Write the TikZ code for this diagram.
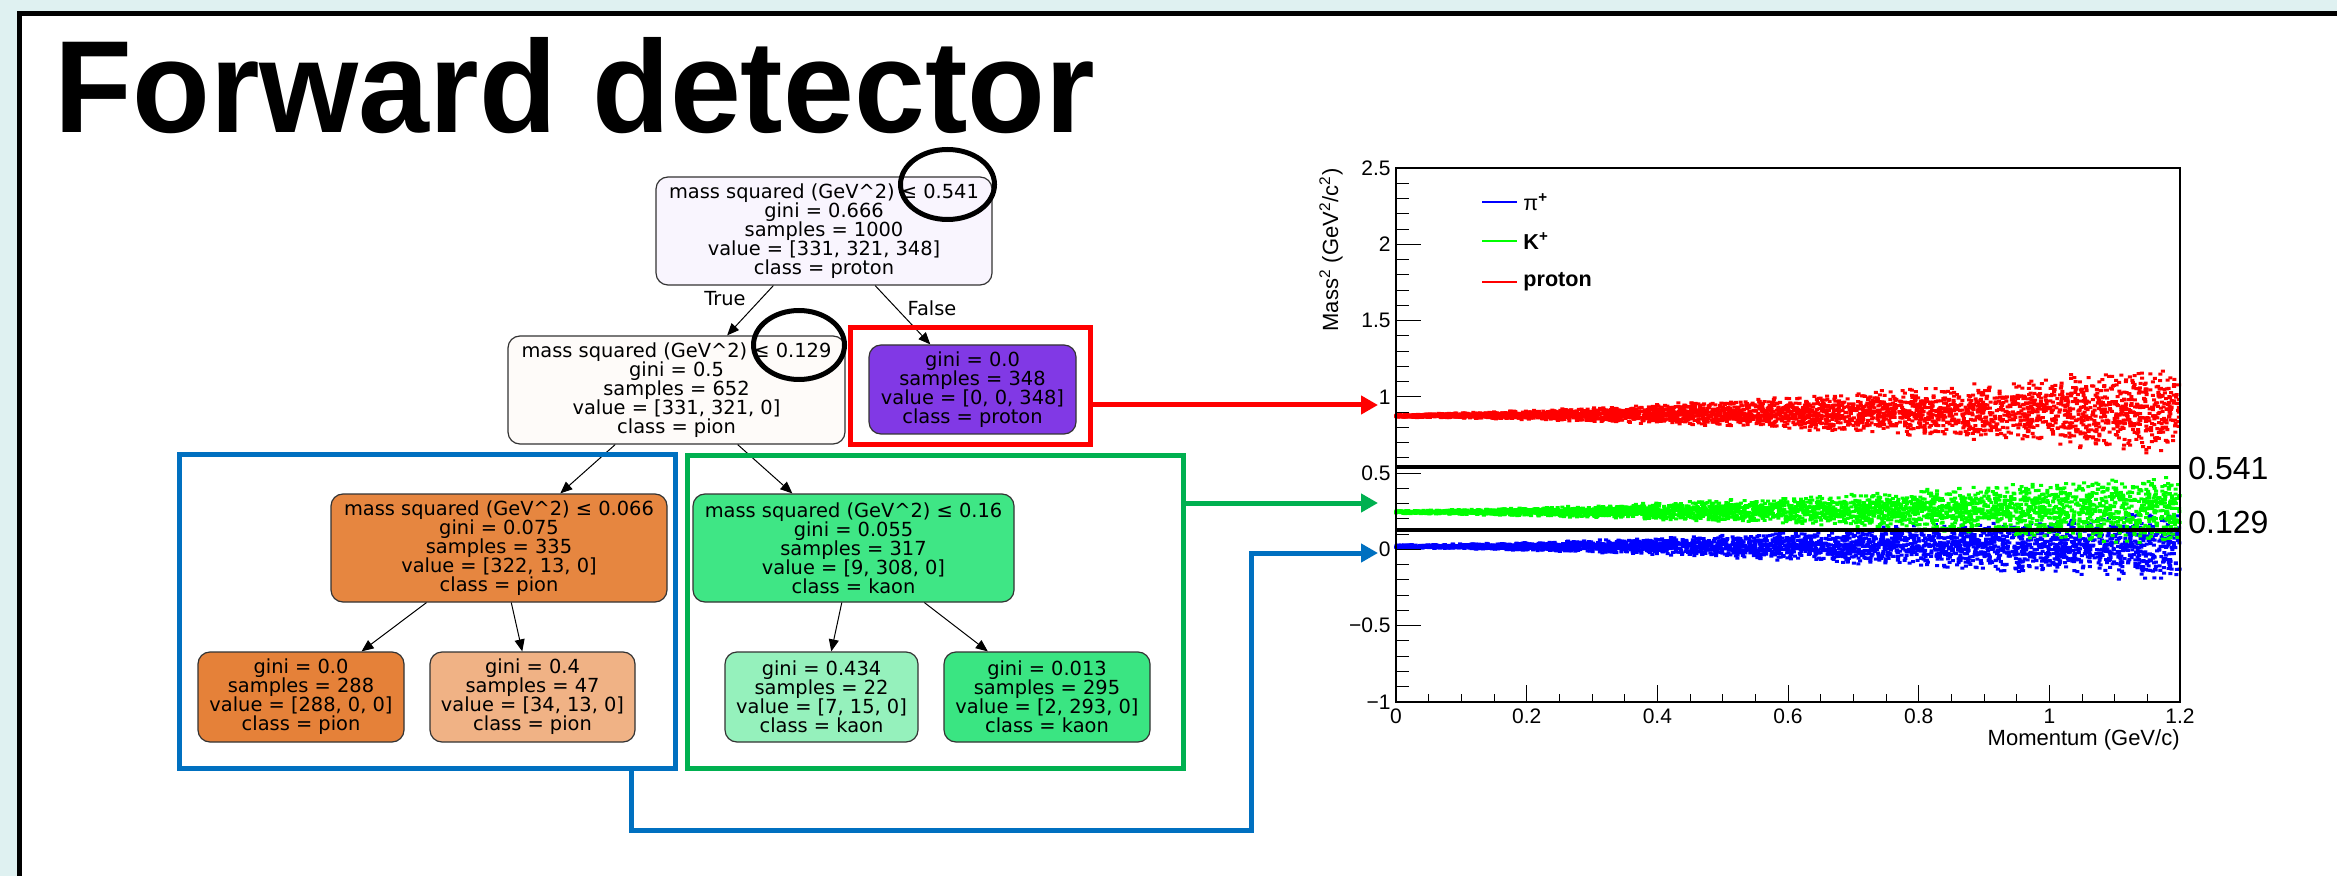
\documentclass[tikz,border=0pt]{standalone}
\usepackage{fontspec}
\setmainfont{Liberation Sans}
\newfontfamily\dejavu{DejaVu Sans}
\usetikzlibrary{arrows.meta,shapes.geometric}
\definecolor{bgc}{RGB}{223,241,241}
\definecolor{rootc}{RGB}{249,245,254}
\definecolor{ntwoc}{RGB}{254,251,249}
\definecolor{purp}{RGB}{129,57,229}
\definecolor{orA}{RGB}{230,134,64}
\definecolor{orB}{RGB}{229,129,57}
\definecolor{orC}{RGB}{240,178,133}
\definecolor{grA}{RGB}{63,230,133}
\definecolor{grB}{RGB}{149,241,188}
\definecolor{grC}{RGB}{58,229,130}
\definecolor{boxblue}{RGB}{0,112,192}
\definecolor{boxgreen}{RGB}{0,176,80}
\definecolor{boxred}{RGB}{255,0,0}
\definecolor{pionc}{RGB}{0,0,255}
\definecolor{kaonc}{RGB}{0,255,0}
\definecolor{protc}{RGB}{255,0,0}
\tikzset{
  tn/.style={draw=black!80, line width=0.6pt, rounded corners=6pt, inner sep=0pt,
    align=center, font=\dejavu\fontsize{9.7}{9.5}\selectfont},
  te/.style={draw=black, line width=0.5pt, -{Triangle[length=6pt,width=5pt]}},
  tlab/.style={font=\dejavu\fontsize{9.7}{9.5}\selectfont, inner sep=0pt},
  hibox/.style={draw, line width=2.5pt, inner sep=0pt},
  hiarrow/.style={line width=2.5pt, -{Triangle[length=8.5pt,width=9pt]}},
  ring/.style={ellipse, draw=black, line width=2.5pt, inner sep=0pt},
  ticklab/.style={inner sep=0pt, font=\fontsize{10.5}{12}\selectfont},
  axtitle/.style={inner sep=0pt, font=\fontsize{11}{13}\selectfont},
  legtext/.style={inner sep=0pt, anchor=west, font=\fontsize{10.8}{13}\selectfont},
  thr/.style={inner sep=0pt, anchor=west, font=\fontsize{16}{18}\selectfont}
}
\begin{document}
\begin{tikzpicture}[x=0.5pt,y=-0.5pt]
\useasboundingbox (0,0) rectangle (2337,876);
\fill[bgc] (0,0) rectangle (2337,876);
\filldraw[fill=white, draw=black, line width=2.5pt] (19,13.5) rectangle (2420,960);

% title
\node[anchor=base west, inner sep=0pt, yscale=1.03, font=\bfseries\fontsize{63.7}{70}\selectfont] (title) at (54,133) {Forward detector};

% tree nodes
\node[tn, fill=rootc, minimum width=168pt, minimum height=54pt] (root) at (824,231)
  {mass squared (GeV\^{}2) ≤ 0.541\\gini = 0.666\\samples = 1000\\value = [331, 321, 348]\\class = proton};
\node[tn, fill=ntwoc, minimum width=168.5pt, minimum height=54pt] (n2) at (676.5,390)
  {mass squared (GeV\^{}2) ≤ 0.129\\gini = 0.5\\samples = 652\\value = [331, 321, 0]\\class = pion};
\node[tn, fill=purp, minimum width=103.5pt, minimum height=44.5pt] (n3) at (972.5,389.5)
  {gini = 0.0\\samples = 348\\value = [0, 0, 348]\\class = proton};
\node[tn, fill=orA, minimum width=168pt, minimum height=54pt] (n4) at (499,548)
  {mass squared (GeV\^{}2) ≤ 0.066\\gini = 0.075\\samples = 335\\value = [322, 13, 0]\\class = pion};
\node[tn, fill=grA, minimum width=160.5pt, minimum height=54pt] (n5) at (853.5,548)
  {mass squared (GeV\^{}2) ≤ 0.16\\gini = 0.055\\samples = 317\\value = [9, 308, 0]\\class = kaon};
\node[tn, fill=orB, minimum width=103pt, minimum height=45pt] (n6) at (301,697)
  {gini = 0.0\\samples = 288\\value = [288, 0, 0]\\class = pion};
\node[tn, fill=orC, minimum width=102.5pt, minimum height=45pt] (n7) at (532.5,697)
  {gini = 0.4\\samples = 47\\value = [34, 13, 0]\\class = pion};
\node[tn, fill=grB, minimum width=96.5pt, minimum height=45pt] (n8) at (821.5,697)
  {gini = 0.434\\samples = 22\\value = [7, 15, 0]\\class = kaon};
\node[tn, fill=grC, minimum width=103pt, minimum height=45pt] (n9) at (1047,697)
  {gini = 0.013\\samples = 295\\value = [2, 293, 0]\\class = kaon};

\draw[te] (root) -- (n2);
\draw[te] (root) -- (n3);
\draw[te] (n2) -- (n4);
\draw[te] (n2) -- (n5);
\draw[te] (n4) -- (n6);
\draw[te] (n4) -- (n7);
\draw[te] (n5) -- (n8);
\draw[te] (n5) -- (n9);
\node[tlab] (ltrue) at (725,299) {True};
\node[tlab] (lfalse) at (932,308) {False};

% rings
\node[ring, minimum width=47pt, minimum height=35pt] (ringA) at (947.5,184.5) {};
\node[ring, minimum width=45.5pt, minimum height=34.5pt] (ringB) at (799,345) {};

% highlight boxes
\node[hibox, draw=boxred, minimum width=120pt, minimum height=58.5pt] (redbox) at (970.5,386) {};
\node[hibox, draw=boxblue, minimum width=248pt, minimum height=157pt] (bluebox) at (427.5,611.5) {};
\node[hibox, draw=boxgreen, minimum width=248pt, minimum height=156.5pt] (greenbox) at (935.5,612) {};

% arrow targets
\coordinate (tipR) at (1378,405);
\coordinate (tipG) at (1378,503);
\coordinate (tipB) at (1378,553);
\coordinate (cB1) at (631,830);
\coordinate (cB2) at (1251,830);
\draw[hiarrow, boxred] (redbox.east |- tipR) -- (tipR);
\draw[hiarrow, boxgreen] (greenbox.east |- tipG) -- (tipG);
\draw[hiarrow, boxblue] (bluebox.south -| cB1) -- (cB1) -- (cB2) -- (cB2 |- tipB) -- (tipB);

% scatter
\pgfmathsetseed{4711}
\foreach \c in {1,...,10}{
  \fill[pionc] \foreach \i [evaluate=\i as \pp using {1.2*rnd},
      evaluate=\i as \X using {1396+653.33*\pp},
      evaluate=\i as \Y using {549.43-152.57*(0.0195+(0.012+0.18*\pp*sqrt(\pp))*(0.6*rand+0.4*rand))}]
      in {1,...,350} { (\X-2,\Y-1.5) rectangle +(4,3) };
}
\foreach \c in {1,...,10}{
  \fill[kaonc] \foreach \i [evaluate=\i as \pp using {1.2*rnd},
      evaluate=\i as \X using {1396+653.33*\pp},
      evaluate=\i as \Y using {549.43-152.57*(0.2437+0.015*\pp+(0.012+0.18*\pp*sqrt(\pp))*(0.6*rand+0.4*rand))}]
      in {1,...,350} { (\X-2,\Y-1.5) rectangle +(4,3) };
}
\foreach \c in {1,...,10}{
  \fill[protc] \foreach \i [evaluate=\i as \pp using {1.2*rnd},
      evaluate=\i as \X using {1396+653.33*\pp},
      evaluate=\i as \Y using {549.43-152.57*(0.875+0.03*\pp+(0.012+0.22*\pp*sqrt(\pp))*(0.6*rand+0.4*rand))}]
      in {1,...,350} { (\X-2,\Y-1.5) rectangle +(4,3) };
}

% thresholds
\draw[line width=1.8pt] (1396,466.8) -- (2180,466.8);
\draw[line width=1.8pt] (1396,529.7) -- (2180,529.7);
\node[thr] (t541) at (2188,468) {0.541};
\node[thr] (t129) at (2188,522) {0.129};

% axes
\draw[line width=0.8pt] (1396,168) rectangle (2180,702);
\foreach \k in {0,...,35}{
  \draw[line width=0.5pt] (1396,{702-15.257*\k}) -- ++(13,0);
}
\foreach \k/\lab in {0/−1,1/−0.5,2/0,3/0.5,4/1,5/1.5,6/2,7/2.5}{
  \draw[line width=0.5pt] (1396,{702-76.286*\k}) -- ++(25,0);
  \node[ticklab, anchor=east] at (1391,{702-76.286*\k}) {\lab};
}
\foreach \k in {0,...,24}{
  \draw[line width=0.5pt] ({1396+32.667*\k},702) -- ++(0,-8);
}
\foreach \k/\lab in {0/0,1/0.2,2/0.4,3/0.6,4/0.8,5/1,6/1.2}{
  \draw[line width=0.5pt] ({1396+130.667*\k},702) -- ++(0,-17);
  \node[ticklab, anchor=base] at ({1396+130.667*\k},723) {\lab};
}
\node[axtitle, anchor=base east] (xtitle) at (2180,745) {Momentum (GeV/c)};
\node[axtitle, anchor=base east, rotate=90] (ytitle) at (1338,168)
  {Mass\textsuperscript{2} (GeV\textsuperscript{2}/c\textsuperscript{2})};

% legend
\draw[pionc, line width=0.8pt] (1482,202) -- (1517,202);
\draw[kaonc, line width=0.8pt] (1482,241) -- (1517,241);
\draw[protc, line width=0.8pt] (1482,282) -- (1517,282);
\node[legtext] (legpi) at (1523,202) {π\textsuperscript{\textbf{+}}};
\node[legtext] (legk) at (1523,241) {\textbf{K\textsuperscript{+}}};
\node[legtext] (legp) at (1523,282) {\textbf{proton}};
\end{tikzpicture}
\end{document}
